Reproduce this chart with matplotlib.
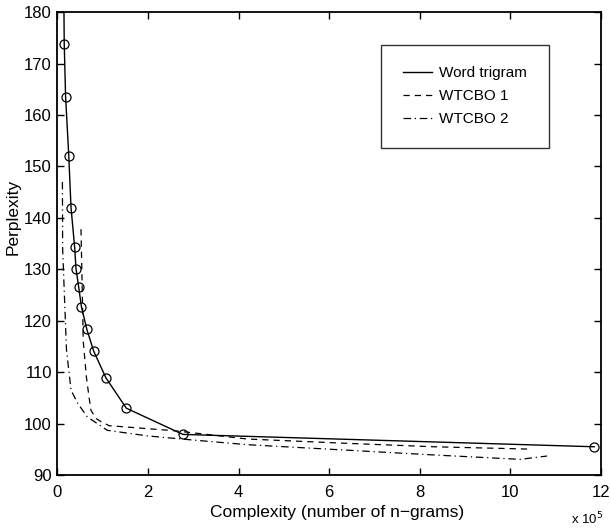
import matplotlib
matplotlib.use("Agg")
import matplotlib.pyplot as plt
from matplotlib.ticker import MultipleLocator

plt.rcParams['font.family'] = ['Liberation Sans', 'DejaVu Sans']

# Complexity in units of 1e5 n-grams
trigram_x = [0.13, 0.15, 0.18, 0.25, 0.30, 0.38, 0.41, 0.47, 0.53, 0.65, 0.80, 1.07, 1.52, 2.77, 11.85]
trigram_y = [195.0, 173.9, 163.6, 152.1, 142.0, 134.3, 130.1, 126.5, 122.7, 118.3, 114.1, 108.9, 103.0, 97.9, 95.5]

wtcbo1_x = [0.52, 0.55, 0.57, 0.64, 0.70, 0.74, 0.85, 0.96, 1.14, 2.6, 4.2, 6.3, 8.3, 10.4]
wtcbo1_y = [137.8, 125.0, 116.0, 109.0, 105.0, 102.6, 101.0, 100.4, 99.6, 98.6, 97.0, 96.2, 95.5, 95.05]

wtcbo2_x = [0.11, 0.115, 0.20, 0.30, 0.45, 0.66, 1.1, 2.0, 3.0, 4.2, 6.26, 8.32, 10.22, 10.81]
wtcbo2_y = [147.0, 134.0, 114.3, 106.5, 103.9, 101.3, 98.7, 97.6, 96.8, 95.9, 94.9, 93.9, 93.05, 93.7]

series_labels = ["Word trigram", "WTCBO 1", "WTCBO 2"]

fig = plt.figure(figsize=(6.11, 5.29), dpi=100)
ax = fig.add_axes([0.094, 0.102, 0.8896, 0.875])

ax.plot(trigram_x, trigram_y, color='black', lw=1.0, label=series_labels[0])
ax.plot(trigram_x[1:], trigram_y[1:], linestyle='none', marker='o', ms=6.5,
        mfc='none', mec='black', mew=0.9)
ax.plot(wtcbo1_x, wtcbo1_y, color='black', lw=0.9, linestyle=(0, (5, 4)), label=series_labels[1])
ax.plot(wtcbo2_x, wtcbo2_y, color='black', lw=0.9, linestyle=(0, (6, 3, 1, 3)), label=series_labels[2])

ax.set_xlim(0, 12)
ax.set_ylim(90, 180)
ax.xaxis.set_major_locator(MultipleLocator(2))
ax.yaxis.set_major_locator(MultipleLocator(10))
ax.tick_params(direction='in', top=True, right=True, length=5, width=1,
               labelsize=12)
ax.tick_params(axis='x', pad=7)
ax.tick_params(axis='y', pad=4)
for s in ax.spines.values():
    s.set_linewidth(1.3)

ax.set_xlabel("Complexity (number of n\u2212grams)", fontsize=12.5)
ax.xaxis.set_label_coords(0.515, -0.082, transform=ax.transAxes)
ax.xaxis.label.set_va('center')
ax.set_ylabel("Perplexity", fontsize=12.5)
ax.yaxis.set_label_coords(-0.082, 0.557, transform=ax.transAxes)
ax.yaxis.label.set_va('center')
ax.text(0.974, -0.096, "x 10$^5$", transform=ax.transAxes, fontsize=9.5,
        ha='center', va='center')

leg = ax.legend(loc='upper left', bbox_to_anchor=(0.596, 0.93), fontsize=11,
                frameon=True, fancybox=False, edgecolor='black',
                handlelength=1.9, handletextpad=0.5, labelspacing=0.6,
                borderpad=1.4, borderaxespad=0)
leg.get_frame().set_linewidth(1.0)

fig.savefig("out.png", dpi=100)
